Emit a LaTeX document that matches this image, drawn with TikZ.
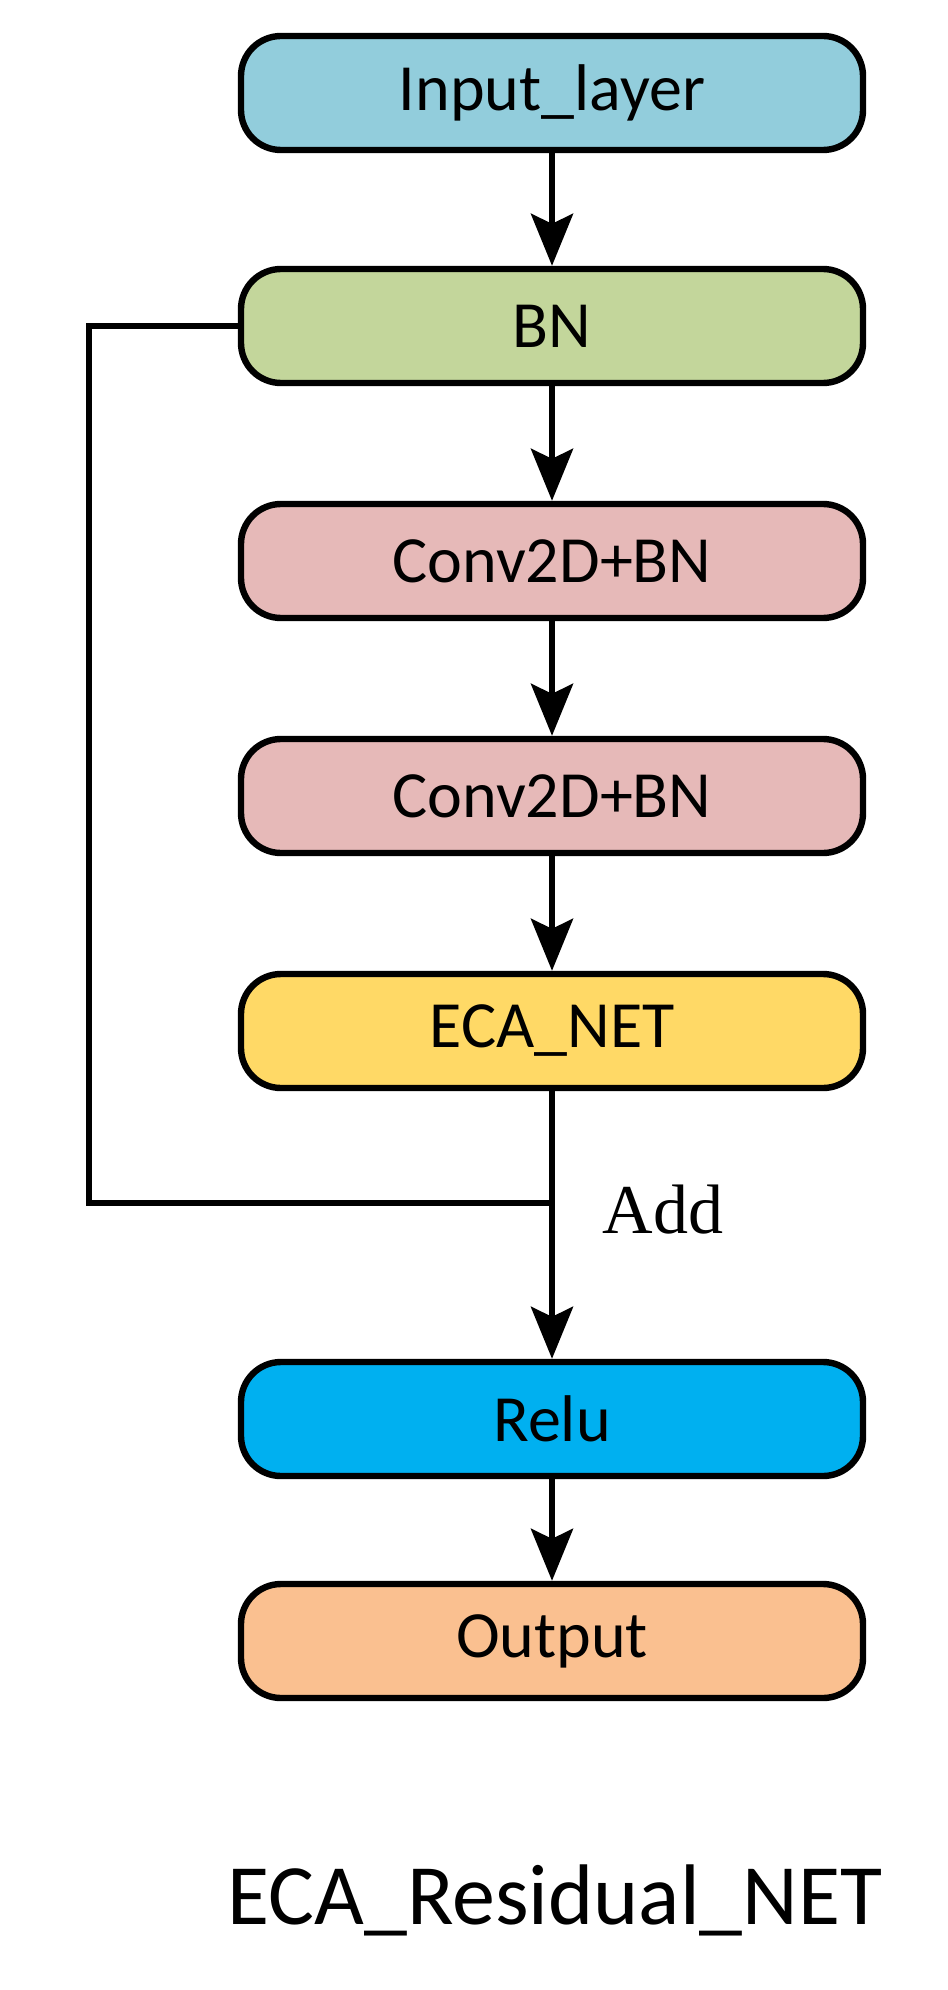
\documentclass[tikz,border=0pt]{standalone}
\usepackage{fontspec}
\setmainfont{Carlito}
\newfontfamily\addfont{Liberation Serif}
\usetikzlibrary{arrows.meta}
\definecolor{inputblue}{HTML}{92CDDC}
\definecolor{bngreen}{HTML}{C3D69B}
\definecolor{convpink}{HTML}{E6B9B8}
\definecolor{ecayellow}{HTML}{FFD966}
\definecolor{relublue}{HTML}{00B0F0}
\definecolor{outorange}{HTML}{FAC090}
\tikzset{
  layerbox/.style={draw=black, line width=3.2pt, rounded corners=20pt,
    minimum width=311pt, minimum height=57pt, inner sep=0pt,
    font=\fontsize{33}{38}\selectfont},
  flowline/.style={line width=3pt, -{Stealth[length=26pt,width=21pt,inset=5pt]}},
  skipline/.style={line width=3pt}
}
\begin{document}
\begin{tikzpicture}[x=0.5pt,y=-0.5pt]
			%%%%% START %%%%%
			\useasboundingbox (0,0) rectangle (947,1990);
			
			\node[layerbox, fill=inputblue] (input) at (552, 93) {Input\_layer};
			\node[layerbox, fill=bngreen] (bn) at (552, 326) {BN};
			\node[layerbox, fill=convpink] (conv1) at (552, 561) {Conv2D+BN};
			\node[layerbox, fill=convpink] (conv2) at (552, 796) {Conv2D+BN};
			\node[layerbox, fill=ecayellow] (eca) at (552, 1031) {ECA\_NET};
			\node[layerbox, fill=relublue] (relu) at (552, 1419) {Relu};
			\node[layerbox, fill=outorange] (output) at (552, 1641) {Output};
			
			\coordinate (add) at (552, 1203);
			\coordinate (skipcorner) at (89, 326);
			
			\draw[flowline] (input) -- (bn);
			\draw[flowline] (bn) -- (conv1);
			\draw[flowline] (conv1) -- (conv2);
			\draw[flowline] (conv2) -- (eca);
			\draw[flowline] (eca) -- (relu);
			\draw[flowline] (relu) -- (output);
			
			\draw[skipline] (bn.west) -- (skipcorner) |- (add);
			\node[font=\addfont\fontsize{35}{40}\selectfont] (addlabel) at (663, 1210) {Add};
			
			\node[font=\fontsize{43}{49}\selectfont] (title) at (555, 1900) {ECA\_Residual\_NET};
			%%%%% END %%%%%
\end{tikzpicture}
\end{document}
